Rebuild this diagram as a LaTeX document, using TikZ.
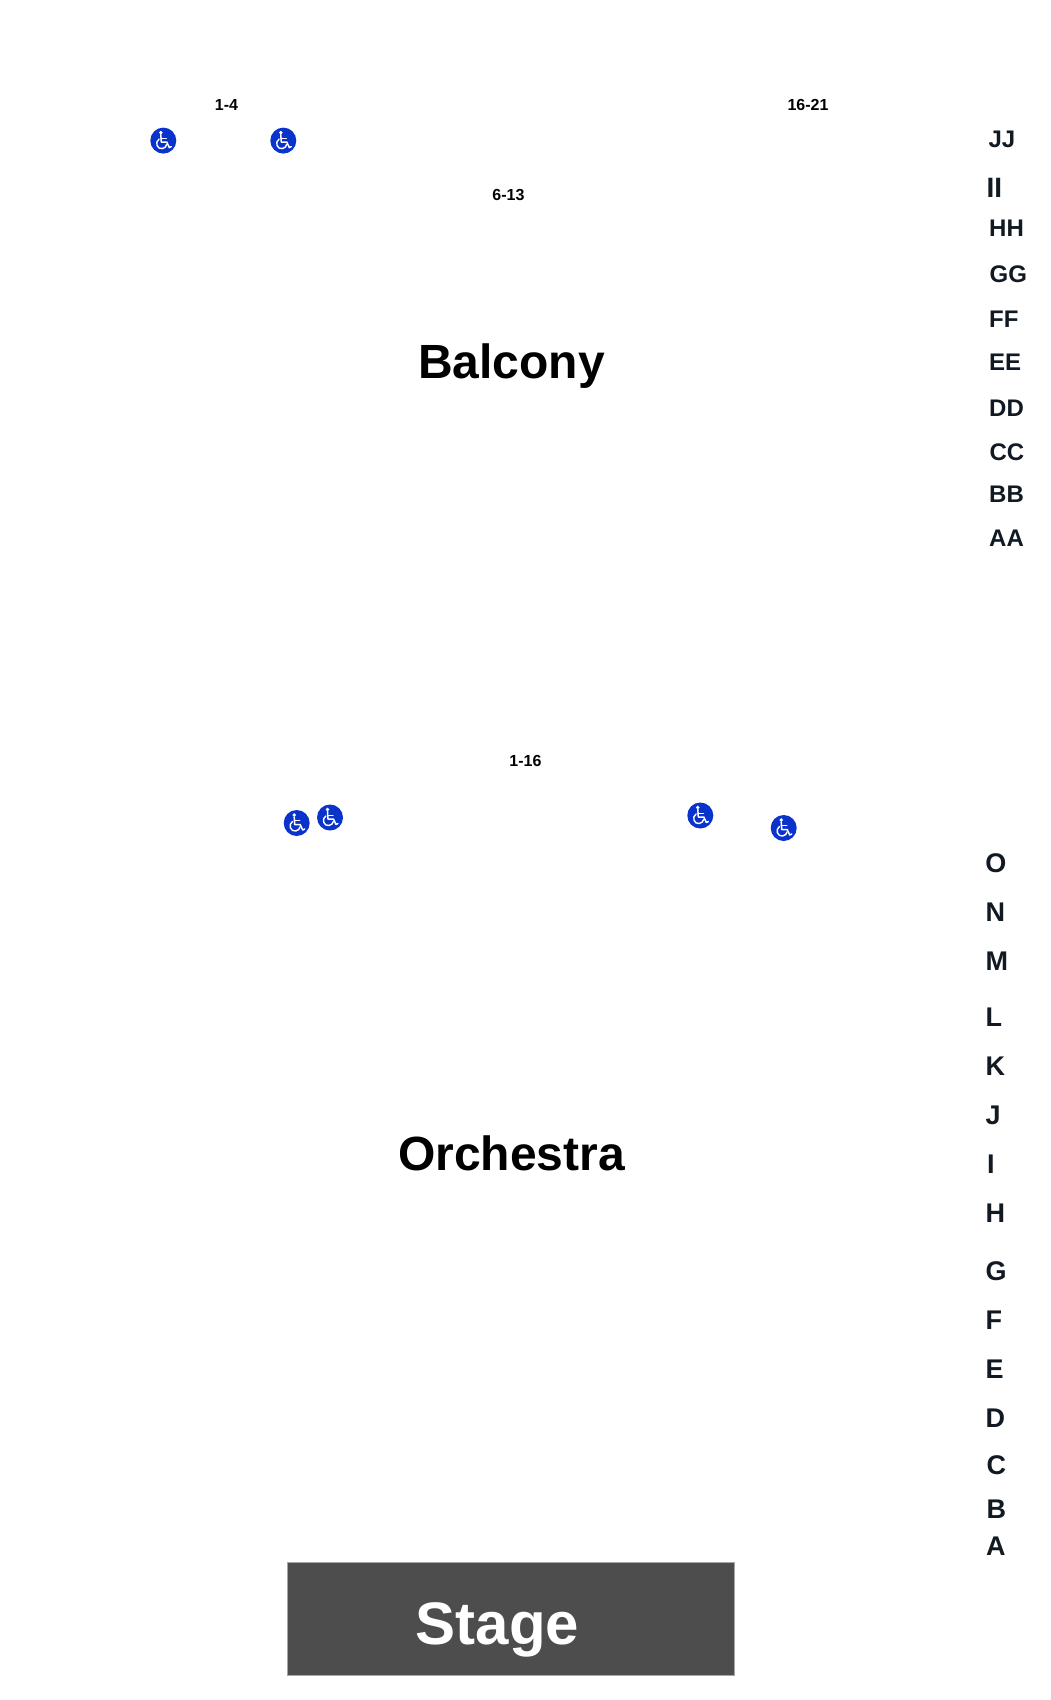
\documentclass[tikz,border=0pt]{standalone}
\usepackage{fontspec}
\setmainfont{Liberation Sans}
\definecolor{chairblue}{HTML}{0A33CC}
\definecolor{stagegray}{HTML}{4D4D4D}
\definecolor{rowink}{HTML}{111A22}
\tikzset{
 seatlabel/.style={inner sep=0pt, anchor=base, font=\fontsize{16}{16}\selectfont\bfseries},
 rowlabel/.style={inner sep=0pt, anchor=base west, text=rowink, font=\fontsize{27}{27}\selectfont\bfseries},
 uprowlabel/.style={rowlabel, font=\fontsize{24}{24}\selectfont\bfseries},
 zonelabel/.style={inner sep=0pt, anchor=base, font=\fontsize{48}{48}\selectfont\bfseries},
 chair/.pic={
  \fill[chairblue] (0,0) circle (13);
  \fill[white] (-2.5,-8) circle (1.9);
  \draw[white, line width=1.5pt, line join=round] (-2.5,-6)--(-2,1.5)--(3.5,1.5)--(6,7)--(8,6);
  \draw[white, line width=1.3pt] (-2.3,-2.3)--(3,-2.3);
  \draw[white, line width=1.4pt] (-4.2,-1.5) .. controls (-9,1.5) and (-6,9) .. (-1,8) .. controls (1.5,7.5) and (3,6) .. (3.3,4);
 }
}
\begin{document}
\begin{tikzpicture}[x=1pt, y=-1pt, line cap=round]
 \useasboundingbox (0,0) rectangle (1050,1700);
 % stage
 \node (stage) [fill=stagegray, draw=gray!70, line width=0.5pt, minimum width=447pt, minimum height=113pt, inner sep=0pt] at (510.5,1618.5) {};
 \node (stagetext) [zonelabel, text=white, font=\fontsize{60}{60}\selectfont\bfseries] at (497.5,1644) {Stage};
 % zones
 \node (balcony) [zonelabel] at (511.5,378) {Balcony};
 \node (orchestra) [zonelabel] at (511.5,1170.5) {Orchestra};
 % seat ranges
 \path
 (226.5,110) node[seatlabel] (seatsa) {1-4}
 (808,110) node[seatlabel] (seatsb) {16-21}
 (508.5,200) node[seatlabel] (seatsc) {6-13}
 (525.5,766) node[seatlabel] (seatsd) {1-16};
 % wheelchair spots
 \foreach \x/\y in {163.3/140.6,283.3/140.6,296.7/823,330/817.5,700.3/815.5,783.7/828}
  \pic at (\x,\y) {chair};
 % balcony rows
 \foreach \x/\y/\t in {988.3/147/JJ,989/236/HH,989.5/282/GG,989/327.5/FF,989/370/EE,989/416/DD,989.3/460/CC,989/502/BB,989/546.5/AA}
  \node (row\t) [uprowlabel] at (\x,\y) {\t};
 \node (rowII) [uprowlabel, font=\fontsize{28}{28}\selectfont\bfseries] at (986.5,197) {II};
 % orchestra rows
 \foreach \x/\y/\t in {985.2/872.5/O,985.5/921.5/N,985.5/970.5/M,985.5/1026/L,985.5/1075/K,985.5/1124.5/J,986.8/1173/I,985.5/1222.5/H,985.5/1280.5/G,985.5/1329/F,985.5/1378/E,985.5/1427.5/D,986.3/1474.5/C,986.3/1518/B,986/1555/A}
  \node (row\t) [rowlabel] at (\x,\y) {\t};
\end{tikzpicture}
\end{document}
